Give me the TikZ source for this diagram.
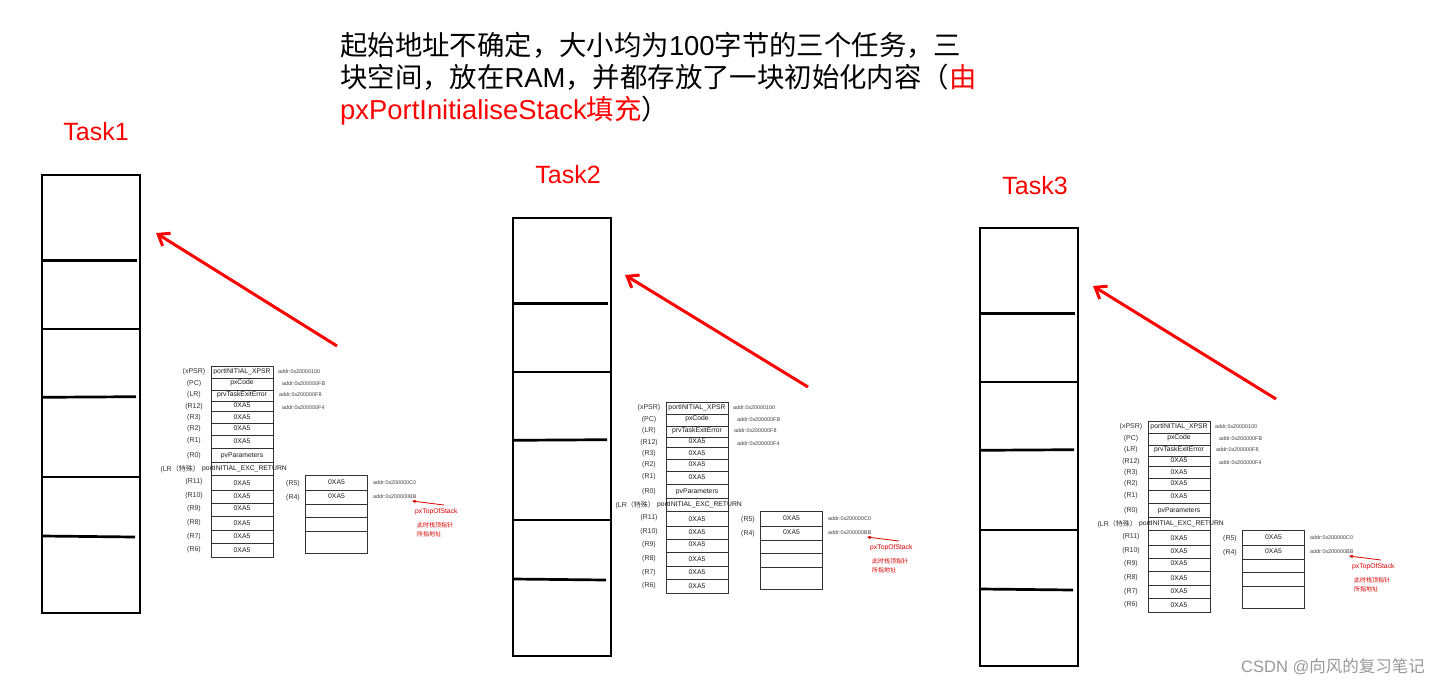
\documentclass[tikz,border=0pt]{standalone}
\usepackage{fontspec}
\setmainfont{Liberation Sans}
\newfontfamily\cjk{Noto Sans CJK SC}
\usetikzlibrary{arrows.meta}

\tikzset{
  bigbox/.style={draw=black, line width=2.7pt, minimum width=98pt, minimum height=438pt, inner sep=0pt},
  bigline/.style={draw=black, line width=2.7pt},
  cell/.style={draw=black!80, line width=0.8pt, minimum width=62pt, inner sep=0pt},
  celltxt/.style={inner sep=0pt, font=\fontsize{6.8}{8}\selectfont, text=black!90},
  lbl/.style={inner sep=0pt, font=\fontsize{7}{8}\selectfont, text=black!80},
  addr/.style={inner sep=0pt, anchor=west, font=\fontsize{5.4}{6}\selectfont, text=black!75},
  rednote/.style={inner sep=0pt, anchor=west, text=red!85!black, font=\fontsize{6.8}{8}\selectfont},
  redcjk/.style={inner sep=0pt, anchor=west, text=red!85!black, font=\cjk\fontsize{6}{7}\selectfont},
  bigarrow/.style={draw=red, line width=3pt, -{Straight Barb[length=10pt, width=15pt]}},
  smallarrow/.style={draw=red!85!black, line width=0.8pt, -{Stealth[length=4pt, width=3.5pt]}},
  tasklabel/.style={inner sep=0pt, text=red, font=\fontsize{25}{30}\selectfont},
  toptext/.style={inner sep=0pt, anchor=base west, font=\fontsize{27.4}{32}\selectfont},
}

\newcommand\BigStack[3]{%
\begin{scope}[shift={(#2,#3)}]
  \node[bigbox] (#1-box) at (91,394) {};
  \draw[bigline] (42,260.7) -- (137,260.7);
  \draw[bigline] (42,329) -- (140,329);
  \draw[bigline] (42,397.3) -- (136,396.7);
  \draw[bigline] (42,477) -- (139,477);
  \draw[bigline] (42,536) -- (135,537);
\end{scope}}

\newcommand\SmallStack[3]{%
\begin{scope}[shift={(#2,#3)}]
  \foreach \ya/\yb/\yt/\yl/\txt/\lab [count=\i] in {366/378/372/372/{portINITIAL\_XPSR}/(xPSR), 378/390/383/384/pxCode/(PC), 390/401/395/395/prvTaskExitError/(LR), 401/411/405.5/407/0XA5/(R12), 411/423/417/417.5/0XA5/(R3), 423/435/428.5/429/0XA5/(R2), 435/448/441/441/0XA5/(R1), 448/462/456/456/pvParameters/(R0), 475/490/483/482/0XA5/(R11), 490/503/496/495.5/0XA5/(R10), 503/516/508.5/509/0XA5/(R9), 516/530/523/523/0XA5/(R8), 530/543/536/536.5/0XA5/(R7), 543/557/550/550/0XA5/(R6)}{
    \node[cell, minimum height={(\yb-\ya)*1pt}] (#1-c\i) at (242,{(\ya+\yb)/2}) {};
    \node[celltxt] (#1-t\i) at (242,\yt) {\txt};
    \node[lbl] (#1-l\i) at (194,\yl) {\lab};
  }
  \node[cell, minimum height=13pt] (#1-cexc) at (242,468.5) {};
  \node[celltxt, anchor=west] (#1-exc) at (202,469) {portINITIAL\_EXC\_RETURN};
  \node[lbl, anchor=east] (#1-lexc) at (200,469) {(LR{\cjk（特殊）}};
  \foreach \ya/\yb/\yt/\txt/\lab [count=\i] in {475/490/482.5/0XA5/(R5), 490/504/496.5/0XA5/(R4)}{
    \node[cell, minimum height={(\yb-\ya)*1pt}] (#1-d\i) at (336.5,{(\ya+\yb)/2}) {};
    \node[celltxt] (#1-e\i) at (336.5,\yt) {\txt};
    \node[lbl] (#1-m\i) at (293,\yt+1) {\lab};
  }
  \foreach \ya/\yb [count=\i from 3] in {504/517, 517/531, 531/553}{
    \node[cell, minimum height={(\yb-\ya)*1pt}] (#1-d\i) at (336.5,{(\ya+\yb)/2}) {};
  }
  \node[addr] (#1-a1) at (278,372) {addr:0x20000100};
  \node[addr] (#1-a2) at (282,384) {addr:0x200000FB};
  \node[addr] (#1-a3) at (279,395) {addr:0x200000F8};
  \node[addr] (#1-a4) at (282,407.5) {addr:0x200000F4};
  \node[addr] (#1-a5) at (373,483) {addr:0x200000C0};
  \node[addr] (#1-a6) at (373,497) {addr:0x200000BB};
  \coordinate (#1-ptail) at (444,505);
  \coordinate (#1-ptip) at (412,501);
  \draw[smallarrow] (#1-ptail) -- (#1-ptip);
  \node[rednote] (#1-top) at (415,512) {pxTopOfStack};
  \node[redcjk] (#1-n1) at (417,525) {此时栈顶指针};
  \node[redcjk] (#1-n2) at (417,534) {所指地址};
\end{scope}}

\begin{document}
\begin{tikzpicture}[x=1pt, y=-1pt]
\useasboundingbox[fill=white] (0,0) rectangle (1441,686);

% title text
\node[toptext] (t1) at (340,55) {{\cjk 起始地址不确定，大小均为}100{\cjk 字节的三个任务，三}};
\node[toptext] (t2) at (340,87) {{\cjk 块空间，放在}RAM{\cjk ，并都存放了一块初始化内容（}{\color{red}\cjk 由}};
\node[toptext] (t3) at (340,119) {{\color{red}pxPortInitialiseStack{\cjk 填充}}{\cjk ）}};

% task labels
\node[tasklabel] (L1) at (96,132) {Task1};
\node[tasklabel] (L2) at (568,175) {Task2};
\node[tasklabel] (L3) at (1035,186) {Task3};

% big stacks
\BigStack{B1}{0}{0}
\BigStack{B2}{471}{43}
\BigStack{B3}{938}{53}

% small stacks
\SmallStack{S1}{0}{0}
\SmallStack{S2}{455}{36}
\SmallStack{S3}{937}{55}

% red arrows
\coordinate (A1s) at (337,346); \coordinate (A1e) at (156,233);
\coordinate (A2s) at (808,387); \coordinate (A2e) at (625,275);
\coordinate (A3s) at (1276,399); \coordinate (A3e) at (1093,286);
\draw[bigarrow] (A1s) -- (A1e);
\draw[bigarrow] (A2s) -- (A2e);
\draw[bigarrow] (A3s) -- (A3e);

% watermark
\node[inner sep=0pt, anchor=east, text=black!40, font=\fontsize{16.5}{20}\selectfont] (wm) at (1425,667) {CSDN\ @{\cjk 向风的复习笔记}};
\end{tikzpicture}
\end{document}
